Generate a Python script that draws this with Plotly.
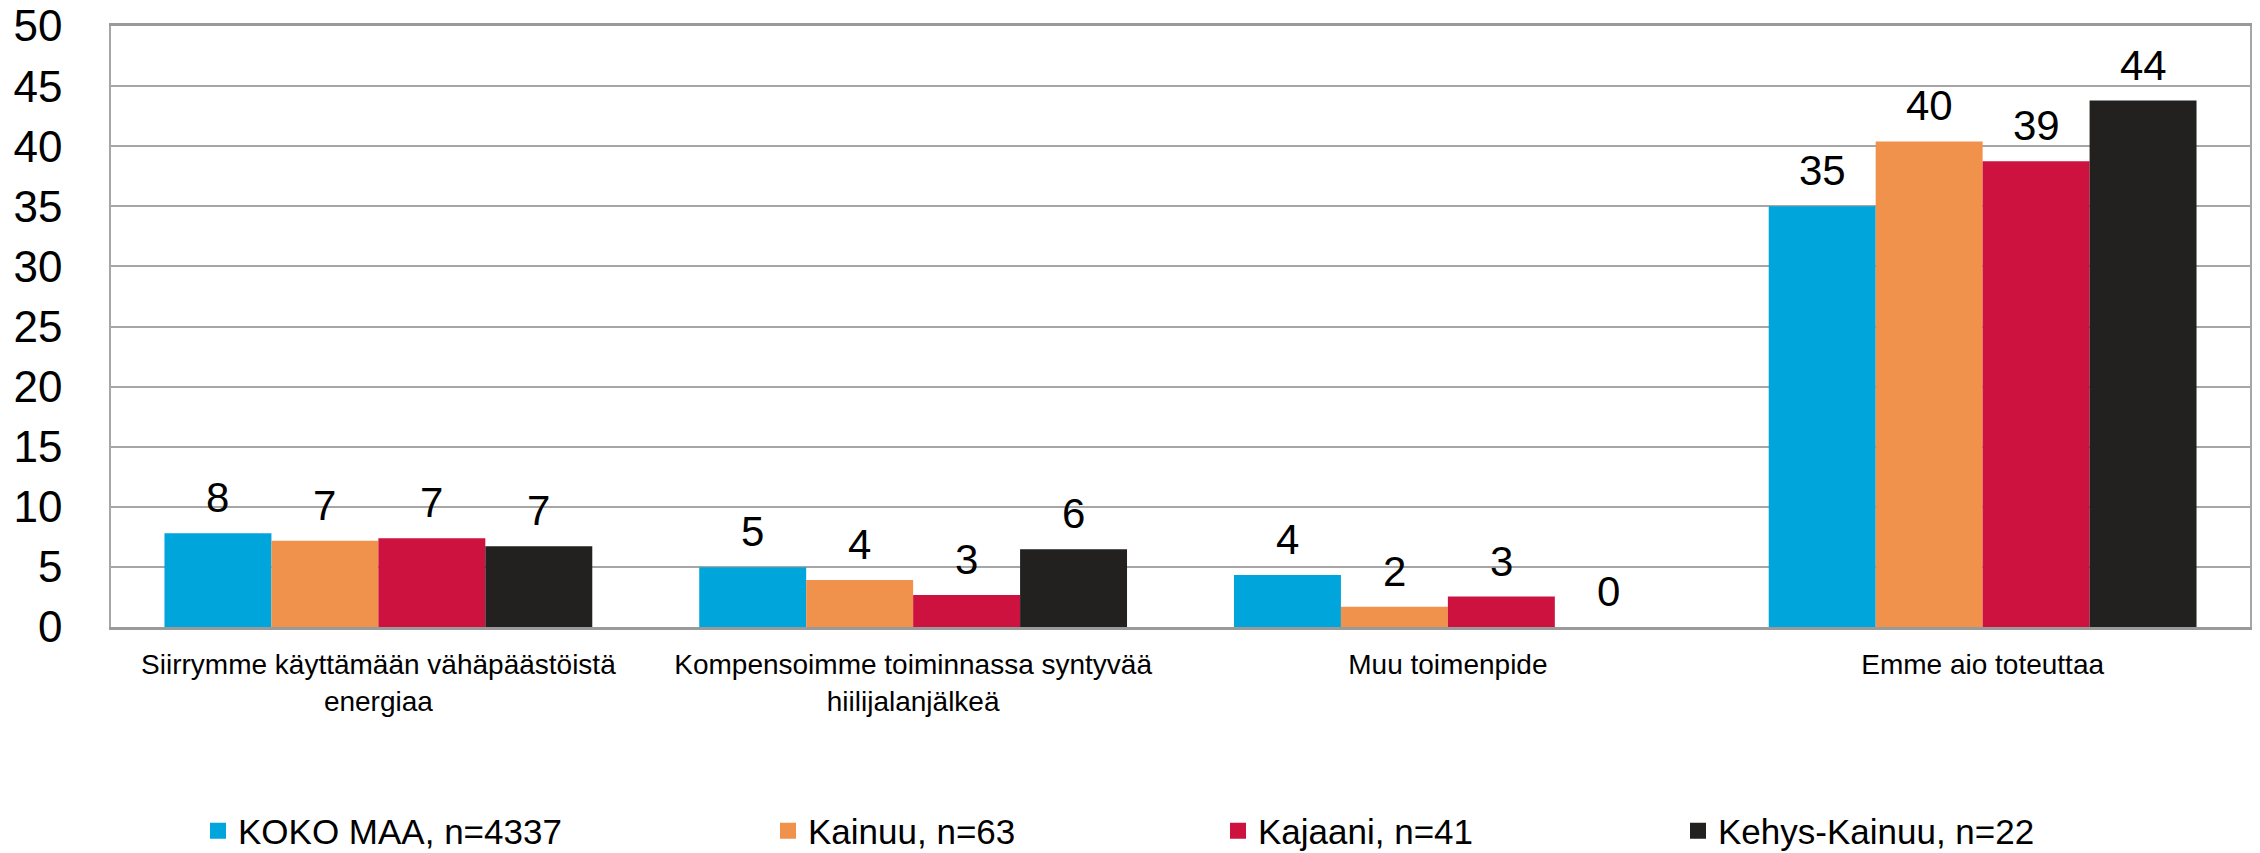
import plotly.graph_objects as go

categories = [
    "Siirrymme käyttämään vähäpäästöistä<br>energiaa",
    "Kompensoimme toiminnassa syntyvää<br>hiilijalanjälkeä",
    "Muu toimenpide",
    "Emme aio toteuttaa",
]
series_names = ["KOKO MAA, n=4337", "Kainuu, n=63", "Kajaani, n=41", "Kehys-Kainuu, n=22"]
koko_maa = [7.8, 4.97, 4.33, 35.0]
kainuu = [7.17, 3.92, 1.69, 40.4]
kajaani = [7.39, 2.67, 2.53, 38.75]
kehys_kainuu = [6.72, 6.47, 0.0, 43.8]
colors = ["#00A5DB", "#F0924B", "#CE123F", "#232120"]
y_ticks = [0, 5, 10, 15, 20, 25, 30, 35, 40, 45, 50]

all_values = [koko_maa, kainuu, kajaani, kehys_kainuu]
FONT = "Liberation Sans, Arial, sans-serif"

W, H = 2260, 853
ML, MR, MT, MB = 111, 10, 26, 226

fig = go.Figure()
legend_names = ["legend", "legend2", "legend3", "legend4"]
for i, (name, vals, col) in enumerate(zip(series_names, all_values, colors)):
    fig.add_trace(go.Bar(
        x=list(range(len(categories))), y=vals, name=name,
        marker=dict(color=col, line=dict(width=0)),
        showlegend=False,
    ))
# legend entries with larger square keys
for i, (name, col) in enumerate(zip(series_names, colors)):
    fig.add_trace(go.Scatter(
        x=[None], y=[None], name=name, mode="markers",
        marker=dict(symbol="square", size=19, color=col),
        legend=legend_names[i], showlegend=True, hoverinfo="skip",
    ))

# data labels
n_series = len(all_values)
group_w = 0.8
bw = group_w / n_series
annotations = []
for i, vals in enumerate(all_values):
    for j, v in enumerate(vals):
        annotations.append(dict(
            x=j - group_w / 2 + bw * (i + 0.5), y=v, xref="x", yref="y",
            text=f"{round(v):d}", showarrow=False, yanchor="bottom",
            yshift=10, font=dict(family=FONT, size=42, color="#000000"),
        ))

# legend positions (pixel centre of each key)
legend_px = [218, 788, 1238, 1698]
leg_layout = {}
for i, px in enumerate(legend_px):
    leg_layout[legend_names[i]] = dict(
        x=(px - 20) / W, xanchor="left", xref="container",
        y=1 - 831 / H, yanchor="middle", yref="container",
        orientation="h", bgcolor="rgba(0,0,0,0)",
        font=dict(family=FONT, size=35, color="#000000"),
        itemwidth=30,
    )

fig.update_layout(
    width=W, height=H,
    margin=dict(l=ML, r=MR, t=MT, b=MB, autoexpand=False),
    paper_bgcolor="white", plot_bgcolor="white",
    barmode="group", bargap=0.2, bargroupgap=0,
    font=dict(family=FONT, color="#000000"),
    showlegend=True,
    annotations=annotations,
    **leg_layout,
)
fig.update_xaxes(
    tickmode="array", tickvals=list(range(len(categories))), ticktext=categories,
    range=[-0.5, len(categories) - 0.5],
    tickfont=dict(family=FONT, size=28, color="#000000"),
    showline=True, linecolor="#9a9a9a", linewidth=2.5, mirror=True,
    ticks="", ticklabelstandoff=11, showgrid=False, zeroline=False,
    automargin=False,
)
fig.update_yaxes(
    range=[0, 50], tickmode="array", tickvals=y_ticks,
    tickfont=dict(family=FONT, size=44, color="#000000"),
    showgrid=True, gridcolor="#a6a6a6", gridwidth=1.5,
    showline=True, linecolor="#a6a6a6", linewidth=1.5, mirror=True,
    ticks="", ticklabelstandoff=38, zeroline=False, automargin=False,
    ticklabeloverflow="allow",
)

# remove the default page margin so the figure sits at the window's corner
fig.write_html(
    "out.html",
    config={"displayModeBar": False},
    post_script="document.body.style.margin='0';",
)
